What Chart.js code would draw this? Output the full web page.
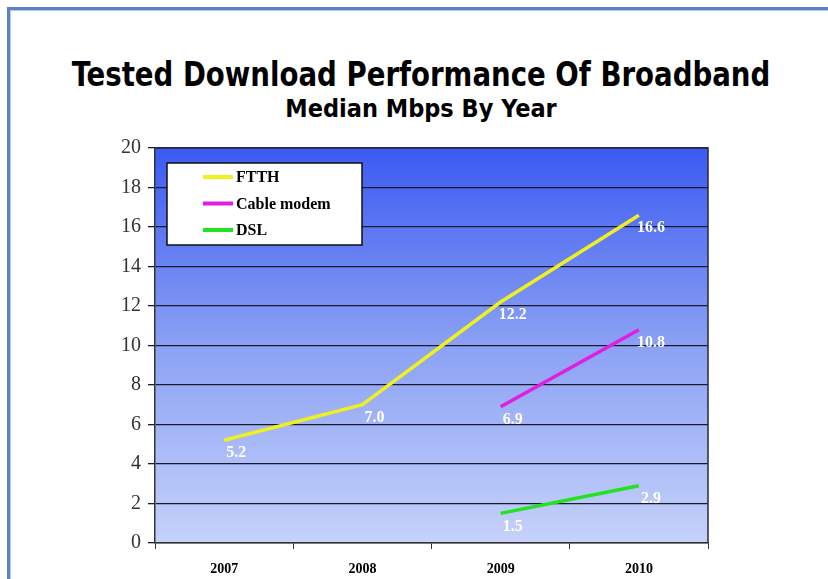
<!DOCTYPE html>
<html>
<head>
<meta charset="utf-8">
<title>Tested Download Performance Of Broadband</title>
<script src="https://cdn.jsdelivr.net/npm/chart.js@4.4.1/dist/chart.umd.min.js"></script>
<style>
  html, body { margin: 0; padding: 0; background: #fff; overflow: hidden; }
  #wrap { position: relative; width: 828px; height: 579px; }
  #frame {
    position: absolute; left: 7px; top: 7px; width: 900px; height: 700px;
    border-left: 3px solid #5a83c4; border-top: 3px solid #5a83c4;
    box-shadow: inset 1px 1px 0 #b3c8ea;
  }
  .ttl { position: absolute; left: 0; width: 842px; text-align: center; color: #000;
         font-family: "DejaVu Sans Condensed", "DejaVu Sans", sans-serif; font-weight: bold; }
  #title { top: 55px; font-size: 33px; transform: scaleX(0.93); }
  #subtitle { top: 94px; font-size: 25px; }
  canvas { position: absolute; left: 0; top: 0; }
</style>
</head>
<body>
<div id="wrap">
  <div id="frame"></div>
  <div class="ttl" id="title">Tested Download Performance Of Broadband</div>
  <div class="ttl" id="subtitle">Median Mbps By Year</div>
  <canvas id="chart" width="828" height="579"></canvas>
</div>
<script>
// Medianwerte (Mbps) je Jahr
const years = ['2007', '2008', '2009', '2010'];
const ftth = [5.2, 7.0, 12.2, 16.6];
const cableModem = [null, null, 6.9, 10.8];
const dsl = [null, null, 1.5, 2.9];
const yTicks = [0, 2, 4, 6, 8, 10, 12, 14, 16, 18, 20];

const serif = '"Liberation Serif", "Times New Roman", serif';

// Hintergrund der Zeichenfläche: Verlauf dunkelblau -> hellblau, plus Rahmen
const plotBackground = {
  id: 'plotBackground',
  beforeDraw(chart) {
    const { ctx, chartArea: a } = chart;
    const g = ctx.createLinearGradient(0, a.top, 0, a.bottom);
    g.addColorStop(0, '#3b5af2');
    g.addColorStop(0.5, '#8ba1f4');
    g.addColorStop(1, '#c6d2fa');
    ctx.save();
    ctx.fillStyle = g;
    ctx.fillRect(a.left, a.top, a.right - a.left, a.bottom - a.top);
    ctx.restore();
  },
  afterDraw(chart) {
    const { ctx, chartArea: a } = chart;
    ctx.save();
    ctx.strokeStyle = '#2a2a3a';
    ctx.lineWidth = 1.5;
    ctx.beginPath();
    ctx.moveTo(a.left, a.top);
    ctx.lineTo(a.right, a.top);
    ctx.lineTo(a.right, a.bottom);
    ctx.stroke();
    ctx.restore();
  }
};

// Werte in Weiß rechts unterhalb der Punkte
const valueLabels = {
  id: 'valueLabels',
  afterDatasetsDraw(chart) {
    const { ctx } = chart;
    ctx.save();
    ctx.fillStyle = '#ffffff';
    ctx.font = 'bold 16px ' + serif;
    ctx.textAlign = 'center';
    ctx.textBaseline = 'middle';
    chart.data.datasets.forEach((ds, i) => {
      chart.getDatasetMeta(i).data.forEach((pt, j) => {
        const v = ds.data[j];
        if (v === null) return;
        ctx.fillText(v.toFixed(1), pt.x + 12, pt.y + 13);
      });
    });
    ctx.restore();
  }
};

// Legende als weißer Kasten oben links in der Zeichenfläche
const boxLegend = {
  id: 'boxLegend',
  afterDraw(chart) {
    const { ctx, chartArea: a } = chart;
    const x = a.left + 12, y = a.top + 15, w = 195, h = 82;
    ctx.save();
    ctx.fillStyle = '#ffffff';
    ctx.fillRect(x, y, w, h);
    ctx.strokeStyle = '#111';
    ctx.lineWidth = 1.5;
    ctx.strokeRect(x, y, w, h);
    ctx.font = 'bold 16px ' + serif;
    ctx.textBaseline = 'middle';
    ctx.fillStyle = '#000';
    chart.data.datasets.forEach((ds, i) => {
      const ly = y + 14 + i * 26.5;
      ctx.strokeStyle = ds.borderColor;
      ctx.lineWidth = 4;
      ctx.beginPath();
      ctx.moveTo(x + 36, ly);
      ctx.lineTo(x + 66, ly);
      ctx.stroke();
      ctx.fillText(ds.label, x + 69, ly + 1);
    });
    ctx.restore();
  }
};

new Chart(document.getElementById('chart'), {
  type: 'line',
  data: {
    labels: years,
    datasets: [
      { label: 'FTTH', data: ftth, borderColor: '#eef022' },
      { label: 'Cable modem', data: cableModem, borderColor: '#e21de2' },
      { label: 'DSL', data: dsl, borderColor: '#22e222' },
    ].map(d => ({ ...d, borderWidth: 3.5, pointRadius: 0, tension: 0, spanGaps: false }))
  },
  options: {
    responsive: false,
    animation: false,
    layout: { padding: { left: 0, right: 120, top: 148, bottom: 0 } },
    plugins: {
      legend: { display: false },
      tooltip: { enabled: false },
    },
    scales: {
      x: {
        offset: true,
        grid: { offset: true, drawOnChartArea: false, color: '#333', tickLength: 6, lineWidth: 1 },
        border: { color: '#333', width: 1.5 },
        ticks: { color: '#000', font: { family: serif, size: 14, weight: 'bold' }, padding: 12 },
        afterFit(scale) { scale.height = 579 - 543; },
      },
      y: {
        min: 0,
        max: 20,
        afterBuildTicks(scale) { scale.ticks = yTicks.map(v => ({ value: v })); },
        grid: { color: '#1a1a2a', lineWidth: 1.3, tickLength: 7 },
        border: { color: '#333', width: 1.5 },
        ticks: { color: '#333', font: { family: serif, size: 20 }, padding: 7 },
        afterFit(scale) { scale.width = 155; },
      }
    }
  },
  plugins: [plotBackground, valueLabels, boxLegend]
});
</script>
</body>
</html>
